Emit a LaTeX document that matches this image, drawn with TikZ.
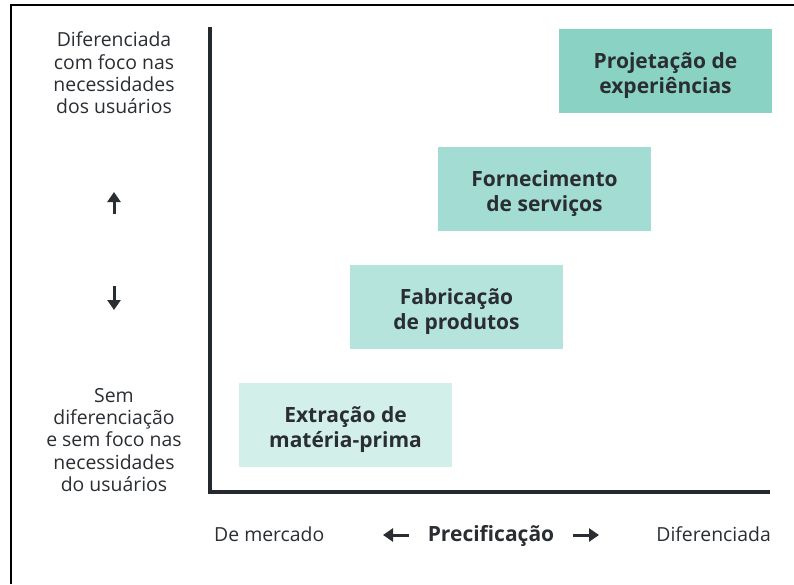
\documentclass[tikz,border=0pt]{standalone}
\usepackage{fontspec}
\setmainfont{Open Sans}
\usepackage{tikz}
\usetikzlibrary{arrows.meta}
\usetikzlibrary{positioning}
\definecolor{tinta}{HTML}{2A2E33}
\definecolor{eixocor}{HTML}{23292E}
\definecolor{verdeA}{HTML}{8AD3C4}
\definecolor{verdeB}{HTML}{A2DCD2}
\definecolor{verdeC}{HTML}{B5E4DC}
\definecolor{verdeD}{HTML}{D2EFEA}
\tikzset{
  etapa/.style={minimum width=213pt, minimum height=84pt, inner sep=0pt},
  etapatexto/.style={align=center, text=tinta, inner sep=0pt, yshift=-5pt,
    font=\fontsize{21}{25}\selectfont\bfseries},
  rotulo/.style={align=center, text=tinta, inner sep=0pt,
    font=\fontsize{19.4}{22.3}\selectfont},
  seta/.style={line width=3pt, draw=tinta, -{Triangle[width=13pt,length=10pt]}}
}
\newcommand{\moldura}{\draw[line width=2pt, black] (11,584) -- (11,4.5) -- (794,4.5);}
\newcommand{\eixos}{\draw[line width=4pt, eixocor] (210,27) |- (770,492);}

\begin{document}
\begin{tikzpicture}[x=1pt, y=-1pt]
\useasboundingbox (0,0) rectangle (794,584);

\moldura
\eixos

\node[etapa, fill=verdeA] (projetacao) at (665.5,71) {};
\node[etapa, fill=verdeB] (fornecimento) at (544.5,189) {};
\node[etapa, fill=verdeC] (fabricacao) at (456.5,307) {};
\node[etapa, fill=verdeD] (extracao) at (345.5,425) {};

\node[etapatexto] (projetacao-t) at (projetacao) {Projetação de\\experiências};
\node[etapatexto] (fornecimento-t) at (fornecimento) {Fornecimento\\de serviços};
\node[etapatexto] (fabricacao-t) at (fabricacao) {Fabricação\\de produtos};
\node[etapatexto] (extracao-t) at (extracao) {Extração de\\matéria-prima};

\node[rotulo] (diferenciada) at (114,73) {Diferenciada\\com foco nas\\necessidades\\dos usuários};
\node[rotulo] (semdif) at (114,440) {Sem\\diferenciação\\e sem foco nas\\necessidades\\do usuários};

\node[rotulo, anchor=west] (mercado) at (214,534) {De mercado};
\node[rotulo, anchor=east] (diferenciada2) at (771,534) {Diferenciada};
\node[rotulo, font=\fontsize{21}{24}\selectfont\bfseries] (precificacao) at (491,536) {Precificação};

\coordinate (sobe0) at (114,214);
\coordinate (sobe1) at (114,192);
\coordinate (desce0) at (114,286);
\coordinate (desce1) at (114,310);
\coordinate (esq0) at (409,535);
\coordinate (esq1) at (383,535);
\coordinate (dir0) at (573,535);
\coordinate (dir1) at (599,535);

\draw[seta] (sobe0) -- (sobe1);
\draw[seta] (desce0) -- (desce1);
\draw[seta] (esq0) -- (esq1);
\draw[seta] (dir0) -- (dir1);

\end{tikzpicture}
\end{document}
